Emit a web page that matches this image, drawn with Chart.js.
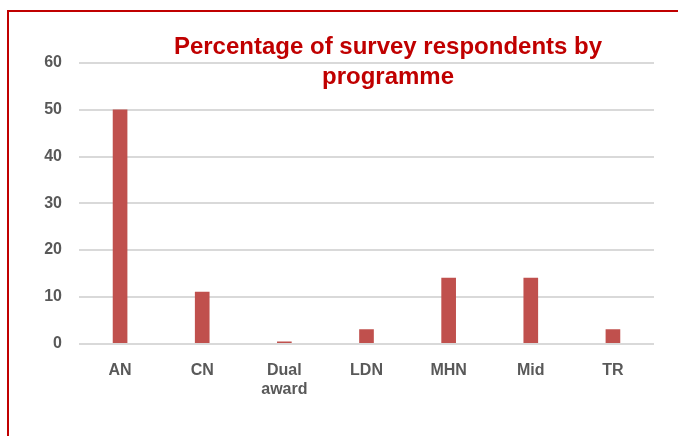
<!DOCTYPE html>
<html>
<head>
<meta charset="utf-8">
<script src="https://cdn.jsdelivr.net/npm/chart.js@4.4.1/dist/chart.umd.min.js"></script>
<style>
    html, body { margin: 0; padding: 0; background: #fff; }
    #wrap { position: relative; width: 678px; height: 436px; overflow: hidden; }
    #frame { position: absolute; left: 7px; top: 10px; width: 700px; height: 460px;
             border-top: 2px solid #c00000; border-left: 2px solid #c00000; }
    canvas { position: absolute; left: 0; top: 0; }
</style>
</head>
<body>
<div id="wrap">
    <div id="frame"></div>
    <canvas id="chart" width="678" height="436"></canvas>
</div>
<script>
const programmes = ['AN', 'CN', ['Dual', 'award'], 'LDN', 'MHN', 'Mid', 'TR'];
const percentages = [50, 11, 0.4, 3, 14, 14, 3];
const yTicks = [0, 10, 20, 30, 40, 50, 60];
const titleLines = ['Percentage of survey respondents by', 'programme'];

// title sits over the plot area, so draw it by hand
const overlayTitle = {
    id: 'overlayTitle',
    afterDraw(chart) {
        const ctx = chart.ctx;
        ctx.save();
        ctx.font = 'bold 24px "Liberation Sans", Arial, sans-serif';
        ctx.fillStyle = '#c00000';
        ctx.textAlign = 'center';
        ctx.textBaseline = 'middle';
        ctx.fillText(titleLines[0], 388, 47);
        ctx.fillText(titleLines[1], 388, 77);
        ctx.restore();
    }
};

const tickFont = { family: '"Liberation Sans", Arial, sans-serif', size: 16, weight: 'bold', lineHeight: 1.2 };

new Chart(document.getElementById('chart'), {
    type: 'bar',
    data: {
        labels: programmes,
        datasets: [{
            data: percentages,
            backgroundColor: '#c0504d',
            barThickness: 14
        }]
    },
    options: {
        responsive: false,
        animation: false,
        layout: { padding: { top: 63, right: 24, left: 0, bottom: 28 } },
        plugins: {
            legend: { display: false },
            title: { display: false },
            tooltip: { enabled: false }
        },
        scales: {
            x: {
                grid: { display: false },
                border: { display: false },
                ticks: { color: '#595959', padding: 9, font: tickFont }
            },
            y: {
                min: 0,
                max: 60,
                afterFit(scale) { scale.width = 79; },
                afterBuildTicks(scale) { scale.ticks = yTicks.map(v => ({ value: v })); },
                grid: { color: '#d9d9d9', lineWidth: 2, drawTicks: false },
                border: { display: false },
                ticks: { color: '#595959', padding: 17, font: tickFont }
            }
        }
    },
    plugins: [overlayTitle]
});
</script>
</body>
</html>
